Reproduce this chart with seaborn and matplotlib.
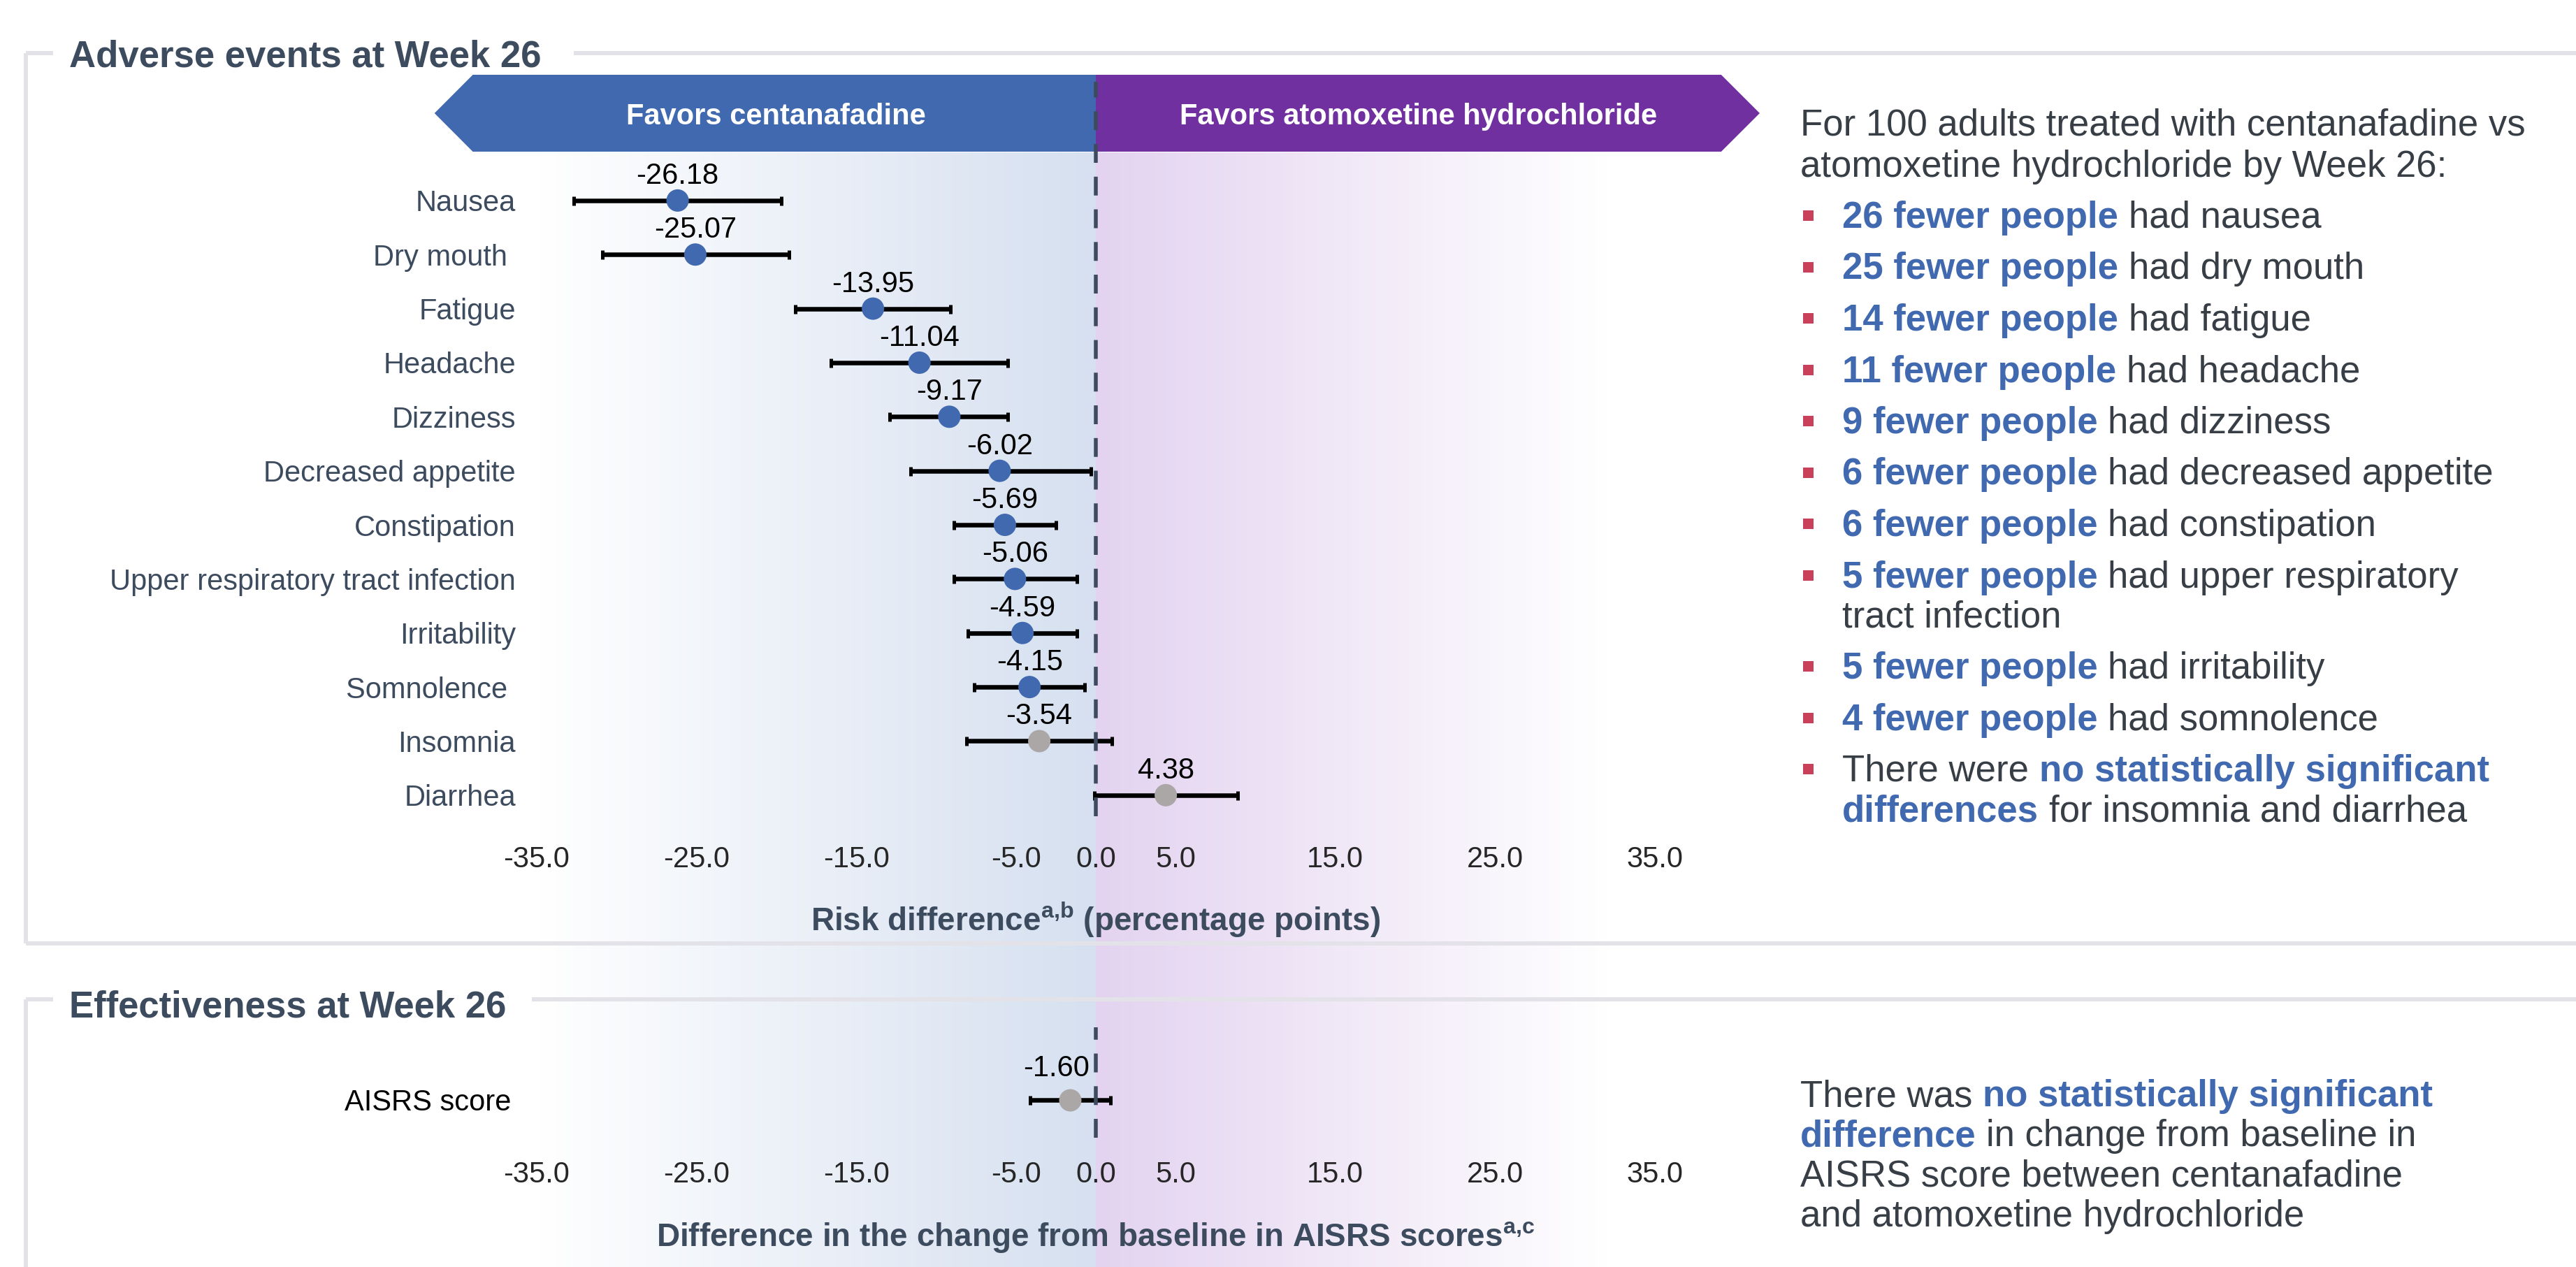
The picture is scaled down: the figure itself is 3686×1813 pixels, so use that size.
import numpy as np
import pandas as pd
import matplotlib
matplotlib.use("Agg")
import matplotlib.pyplot as plt
from matplotlib import transforms
from matplotlib.patches import Polygon, Rectangle
from matplotlib.colors import LinearSegmentedColormap
import seaborn as sns

# ---- data ----
events = ["Nausea", "Dry mouth ", "Fatigue", "Headache", "Dizziness",
          "Decreased appetite", "Constipation", "Upper respiratory tract infection",
          "Irritability", "Somnolence ", "Insomnia", "Diarrhea"]
risk_diff = [-26.18, -25.07, -13.95, -11.04, -9.17, -6.02, -5.69, -5.06, -4.59, -4.15, -3.54, 4.38]
ci_low = [-32.7, -30.9, -18.8, -16.6, -12.9, -11.6, -8.9, -8.9, -8.0, -7.6, -8.1, -0.1]
ci_high = [-19.7, -19.2, -9.1, -5.5, -5.5, -0.3, -2.5, -1.2, -1.2, -0.7, 1.0, 8.9]
significant = [True] * 10 + [False, False]

aisrs_label = ["AISRS score"]
aisrs_diff = [-1.60]
aisrs_low = [-4.1]
aisrs_high = [0.9]
aisrs_sig = [False]

tick_values = [-35, -25, -15, -5, 0, 5, 15, 25, 35]
tick_labels = [f"{v:.1f}" for v in tick_values]

intro_lines = ["For 100 adults treated with centanafadine vs",
               "atomoxetine hydrochloride by Week 26:"]
bullets = [
    [[("26 fewer people", True), ("had nausea", False)]],
    [[("25 fewer people", True), ("had dry mouth", False)]],
    [[("14 fewer people", True), ("had fatigue", False)]],
    [[("11 fewer people", True), ("had headache", False)]],
    [[("9 fewer people", True), ("had dizziness", False)]],
    [[("6 fewer people", True), ("had decreased appetite", False)]],
    [[("6 fewer people", True), ("had constipation", False)]],
    [[("5 fewer people", True), ("had upper respiratory", False)], [("tract infection", False)]],
    [[("5 fewer people", True), ("had irritability", False)]],
    [[("4 fewer people", True), ("had somnolence", False)]],
    [[("There were", False), ("no statistically significant", True)],
     [("differences", True), ("for insomnia and diarrhea", False)]],
]
aisrs_note = [
    [("There was", False), ("no statistically significant", True)],
    [("difference", True), ("in change from baseline in", False)],
    [("AISRS score between centanafadine", False)],
    [("and atomoxetine hydrochloride", False)],
]

# ---- style ----
BLUE = "#4169b0"
PURPLE = "#7030a0"
GRAY = "#aba7a7"
SLATE = "#3d4b5f"
TEXT = "#383e45"
RED = "#c9405b"
BORDER = "#e2e2e8"

W, H, DPI = 3686, 1813, 200
PX = 72 / DPI  # points per pixel

sns.set_style("white")
plt.rcParams["font.family"] = ["Liberation Sans", "DejaVu Sans"]
plt.rcParams["mathtext.fontset"] = "custom"
plt.rcParams["mathtext.rm"] = "Liberation Sans"
plt.rcParams["mathtext.bf"] = "Liberation Sans:bold"

fig = plt.figure(figsize=(W / DPI, H / DPI), dpi=DPI)


def box(l, t, r, b):
    return [l / W, 1 - b / H, (r - l) / W, (b - t) / H]


X0, X1 = 768, 2368  # pixel span of the -35..35 axis

# gradient background behind both panels
bg = fig.add_axes(box(X0, 218, X1, H), zorder=-1)
ramp = np.linspace(0, 1, 256).reshape(1, -1)
bg.imshow(ramp, cmap=LinearSegmentedColormap.from_list("b", ["#ffffff", "#d6e0f0"]),
          extent=(-35, 0, 0, 1), aspect="auto")
bg.imshow(ramp, cmap=LinearSegmentedColormap.from_list("p", ["#e3d3f0", "#ffffff"]),
          extent=(0, 32, 0, 1), aspect="auto")
bg.set_xlim(-35, 35)
bg.set_ylim(0, 1)
bg.axis("off")

# overlay in pixel coordinates for frames and side text
over = fig.add_axes([0, 0, 1, 1], zorder=5)
over.set_xlim(0, W)
over.set_ylim(H, 0)
over.axis("off")

ax1 = fig.add_axes(box(X0, 116.7, X1, 1168))
ax2 = fig.add_axes(box(X0, 1470, X1, 1628))


def draw_panel(ax, frame, label_color, label_lift, label_dx=0):
    ax.set_facecolor("none")
    ax.errorbar(frame["diff"], frame["pos"],
                xerr=[frame["diff"] - frame["lo"], frame["hi"] - frame["diff"]],
                fmt="none", ecolor="black", elinewidth=6.5 * PX,
                capsize=6.5 * PX, capthick=5 * PX, zorder=4)
    pal = {k: (BLUE if k else GRAY) for k in frame["sig"].unique()}
    sns.scatterplot(data=frame, x="diff", y="pos", hue="sig", palette=pal,
                    s=(32 * PX) ** 2, linewidth=0, legend=False, ax=ax, zorder=6)
    for d, p in zip(frame["diff"], frame["pos"]):
        ax.annotate(f"{d:.2f}", (d, p), xytext=(label_dx * PX, label_lift * PX),
                    textcoords="offset points", ha="center", va="baseline",
                    fontsize=15, color="black", zorder=7)
    ax.axvline(0, color=SLATE, lw=5.5 * PX, ls=(0, (4.9, 3.6)), zorder=5)
    ax.set_xlim(-35, 35)
    ax.set_xticks(tick_values, tick_labels)
    ax.set_yticks(frame["pos"], frame["event"])
    ax.tick_params(axis="both", length=0, labelsize=15)
    ax.tick_params(axis="y", labelcolor=label_color)
    ax.set_ylabel("")
    sns.despine(ax=ax, left=True, bottom=True)


top = pd.DataFrame({"event": events, "diff": risk_diff, "lo": ci_low,
                    "hi": ci_high, "sig": significant})
top["pos"] = np.arange(len(top))
draw_panel(ax1, top, SLATE, 24)
ax1.set_ylim(11.39, -2.2)
ax1.tick_params(axis="x", pad=15)
ax1.tick_params(axis="y", pad=30 * PX)
ax1.set_xlabel(r"Risk difference$^{\mathbf{a{,}b}}$ (percentage points)",
               fontsize=16.5, fontweight="bold", color=SLATE, labelpad=14)

bot = pd.DataFrame({"event": aisrs_label, "diff": aisrs_diff, "lo": aisrs_low,
                    "hi": aisrs_high, "sig": aisrs_sig})
bot["pos"] = np.arange(len(bot))
draw_panel(ax2, bot, "black", 34, label_dx=-20)
ax2.set_ylim(0.70, -1.345)
ax2.tick_params(axis="x", pad=12)
ax2.tick_params(axis="y", pad=37 * PX)
ax2.set_xlabel(r"Difference in the change from baseline in AISRS scores$^{\mathbf{a{,}c}}$",
               fontsize=16.5, fontweight="bold", color=SLATE, labelpad=16)

# header arrows (x in data units, y in pixels)
hdr = transforms.blended_transform_factory(ax1.transData, over.transData)
ax1.add_patch(Polygon([(-41.4, 162), (-39.0, 107), (0, 107), (0, 217), (-39.0, 217)],
                      closed=True, facecolor=BLUE, edgecolor="none",
                      transform=hdr, clip_on=False, zorder=2))
ax1.add_patch(Polygon([(0, 107), (39.15, 107), (41.56, 162), (39.15, 217), (0, 217)],
                      closed=True, facecolor=PURPLE, edgecolor="none",
                      transform=hdr, clip_on=False, zorder=2))
ax1.text(-20.0, 178, "Favors centanafadine", transform=hdr, ha="center", va="baseline",
         fontsize=15, fontweight="bold", color="white", zorder=3)
ax1.text(20.2, 178, "Favors atomoxetine hydrochloride", transform=hdr, ha="center",
         va="baseline", fontsize=15, fontweight="bold", color="white", zorder=3)

# panel frames and titles
frame_kw = dict(color=BORDER, lw=6 * PX, solid_capstyle="butt")
over.plot([37, 76], [76, 76], **frame_kw)
over.plot([821, W], [76, 76], **frame_kw)
over.plot([37, 37], [76, 1350], **frame_kw)
over.plot([37, W], [1350, 1350], **frame_kw)
over.plot([37, 76], [1430, 1430], **frame_kw)
over.plot([761, W], [1430, 1430], **frame_kw)
over.plot([37, 37], [1430, H], **frame_kw)
over.text(99, 96, "Adverse events at Week 26", fontsize=19, fontweight="bold",
          color=SLATE, va="baseline", ha="left")
over.text(99, 1455, "Effectiveness at Week 26", fontsize=19, fontweight="bold",
          color=SLATE, va="baseline", ha="left")


def rich_line(x, base, pieces, size=19):
    prev = None
    for s, bold in pieces:
        style = dict(fontsize=size, fontweight="bold" if bold else "normal",
                     color=BLUE if bold else TEXT)
        if prev is None:
            prev = over.text(x, base, s, ha="left", va="baseline", **style)
        else:
            prev = over.annotate(s, xy=(1, 0), xycoords=prev,
                                 xytext=(0.278 * size, 0), textcoords="offset points",
                                 ha="left", va="bottom", **style)


for i, line in enumerate(intro_lines):
    rich_line(2576, 194 + i * 58.5, [(line, False)])

base = 326
for item in bullets:
    over.add_patch(Rectangle((2580, base - 25), 15, 15, facecolor=RED, edgecolor="none"))
    for j, line in enumerate(item):
        rich_line(2636, base + j * 57, line)
    base += 73.5 + 57 * (len(item) - 1)

for i, line in enumerate(aisrs_note):
    rich_line(2576, 1583 + i * 57.3, line)

fig.savefig("out.png", dpi=DPI, facecolor="white")
